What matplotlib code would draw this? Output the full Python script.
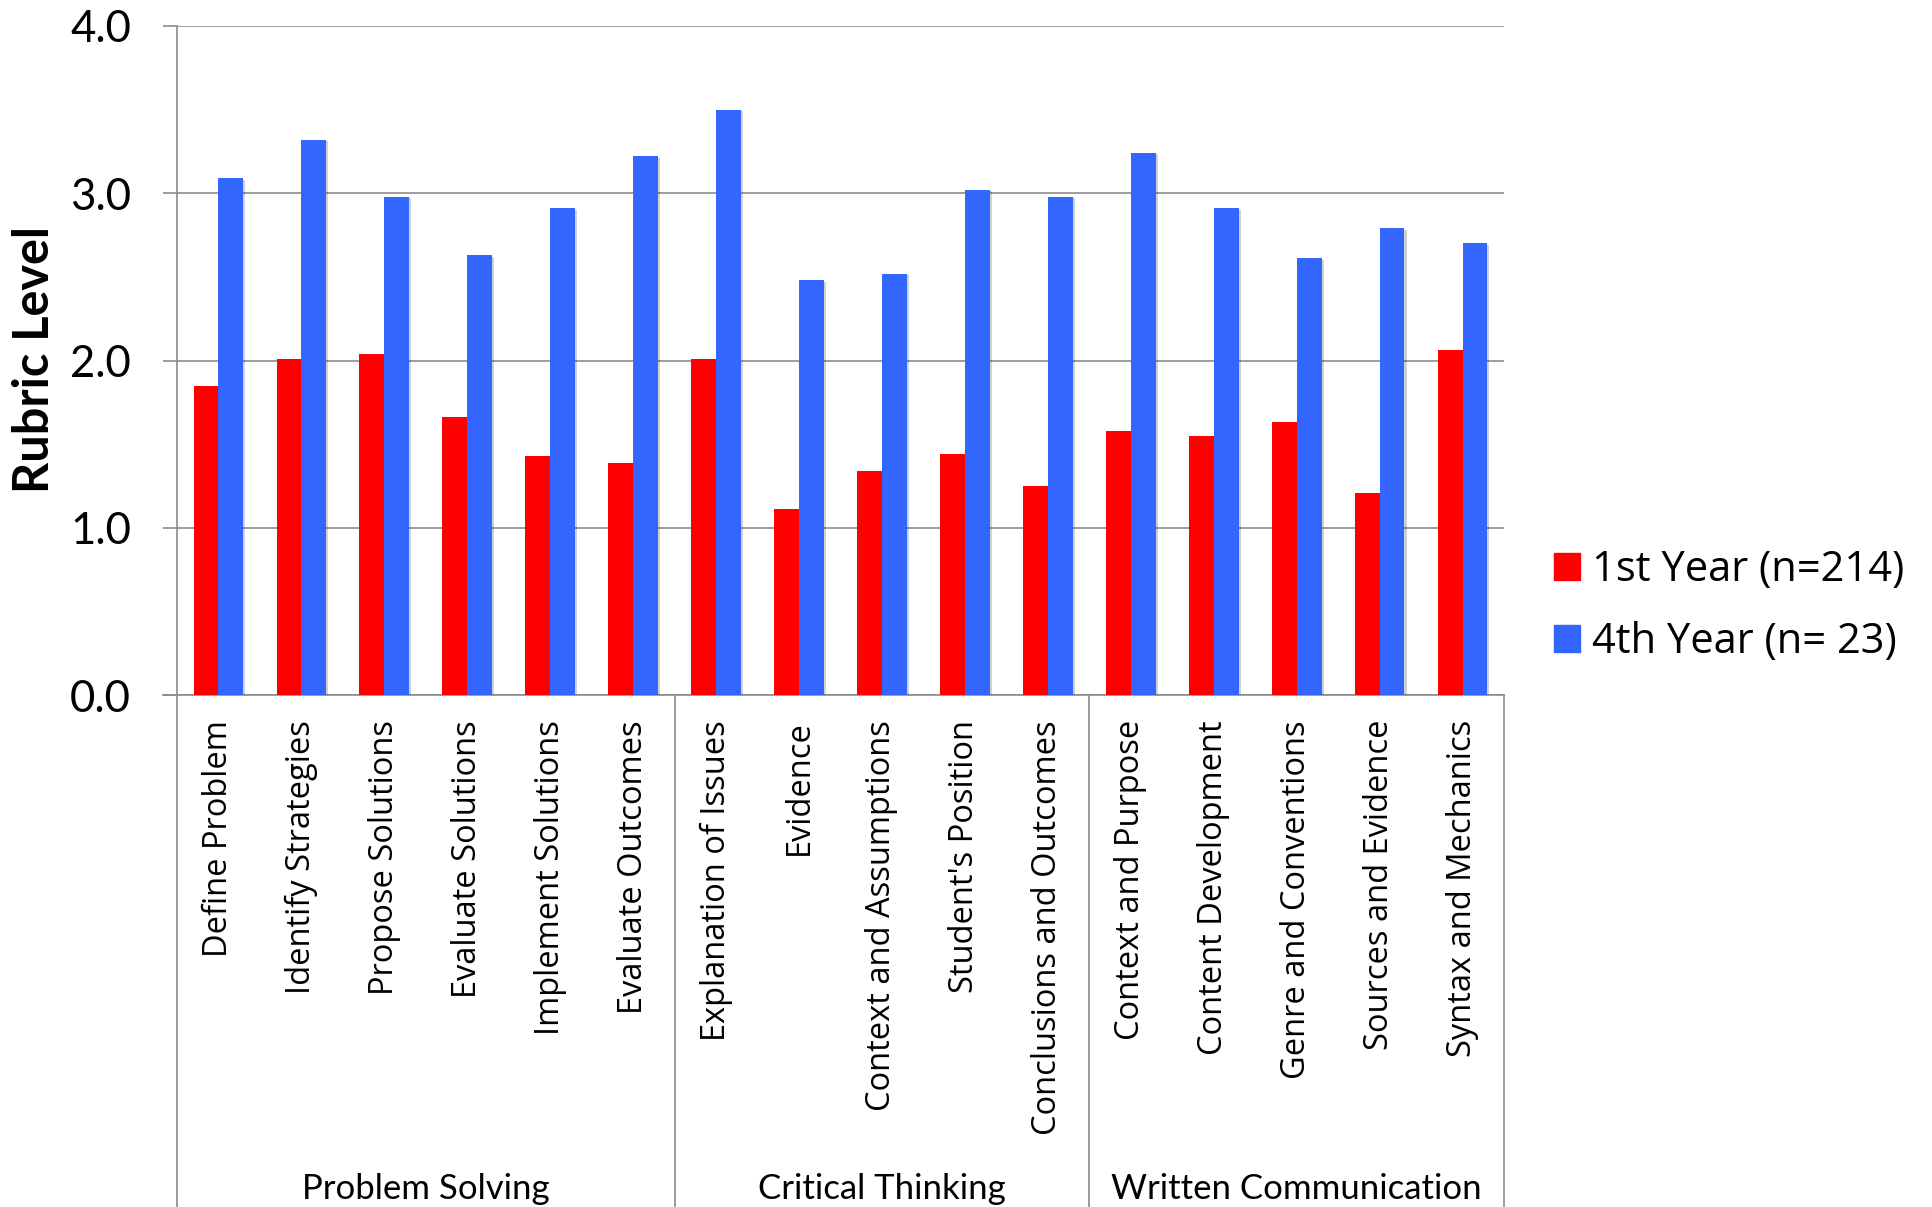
import matplotlib
matplotlib.use("Agg")
import matplotlib.pyplot as plt
import matplotlib.transforms as mtransforms
import matplotlib.patheffects as pe
from matplotlib.patches import Patch
import numpy as np

# Rubric criteria, grouped by skill area
groups = ["Problem Solving", "Critical Thinking", "Written Communication"]
group_sizes = [6, 5, 5]
criteria = [
    "Define Problem", "Identify Strategies", "Propose Solutions",
    "Evaluate Solutions", "Implement Solutions", "Evaluate Outcomes",
    "Explanation of Issues", "Evidence", "Context and Assumptions",
    "Student's Position", "Conclusions and Outcomes",
    "Context and Purpose", "Content Development", "Genre and Conventions",
    "Sources and Evidence", "Syntax and Mechanics",
]
first_year = [1.85, 2.01, 2.04, 1.66, 1.43, 1.39,
              2.01, 1.11, 1.34, 1.44, 1.25,
              1.58, 1.55, 1.63, 1.21, 2.06]
fourth_year = [3.09, 3.32, 2.98, 2.63, 2.91, 3.22,
               3.50, 2.48, 2.52, 3.02, 2.98,
               3.24, 2.91, 2.61, 2.79, 2.70]
series_labels = ["1st Year (n=214)", "4th Year (n= 23)"]
yticks = [0.0, 1.0, 2.0, 3.0, 4.0]

RED = "#FF0000"
BLUE = "#3366FF"
GRID = "#8C8C8C"
SANS = "Lato"
LABEL_FONT = "Open Sans"

W, H = 1932, 1207
fig = plt.figure(figsize=(W / 100, H / 100), dpi=100)
ax = fig.add_axes([177 / W, 1 - 695 / H, (1504 - 177) / W, (695 - 26) / H])

x = np.arange(len(criteria))
bw = 0.3
shadow = [pe.SimplePatchShadow(offset=(1.5, -1), shadow_rgbFace="#000000",
                               alpha=0.18), pe.Normal()]
ax.bar(x - bw / 2, first_year, bw, color=RED, zorder=3,
       label=series_labels[0], path_effects=shadow)
ax.bar(x + bw / 2, fourth_year, bw, color=BLUE, zorder=3,
       label=series_labels[1], path_effects=shadow)

ax.set_xlim(-0.5, len(criteria) - 0.5)
ax.set_ylim(0, 4)
ax.set_yticks(yticks)
ax.set_yticklabels([f"{v:.1f}" for v in yticks], fontsize=31.5, family=SANS)
ax.yaxis.grid(True, color=GRID, lw=1.2, zorder=0)
ax.tick_params(axis="y", length=10, width=1.2, color=GRID, pad=23)

ax.set_xticks(x)
ax.set_xticklabels(criteria, rotation=90, fontsize=23.5, family=LABEL_FONT,
                   va="top", ha="center")
ax.tick_params(axis="x", length=0, pad=18)

for side in ["top", "right", "left"]:
    ax.spines[side].set_visible(False)
ax.spines["bottom"].set_color(GRID)
ax.spines["bottom"].set_linewidth(1.2)

# Group separators running down through the category label area
trans = mtransforms.blended_transform_factory(ax.transData, ax.transAxes)
bottom = -(H - 695) / (695 - 26)
bounds = np.concatenate([[0], np.cumsum(group_sizes)]) - 0.5
for b in bounds:
    ax.plot([b, b], [bottom, 1.0 if b == bounds[0] else 0.0], transform=trans,
            color=GRID, lw=1.2, clip_on=False, zorder=4)
ax.plot([-0.5 - 14 / 83, -0.5], [0, 0], transform=trans, color=GRID, lw=1.2,
        clip_on=False)

# Group names centred under each block
label_y = -(1199 - 695) / (695 - 26)
for g, lo, hi in zip(groups, bounds[:-1], bounds[1:]):
    ax.text((lo + hi) / 2, label_y, g, transform=trans, ha="center",
            va="baseline", fontsize=25, family=SANS)

ax.set_ylabel("Rubric Level", fontsize=35, fontweight="bold", family=SANS,
              va="center")
ax.yaxis.set_label_coords(-(177 - 35) / (1504 - 177), (695 - 360) / (695 - 26))

handles = [Patch(color=RED), Patch(color=BLUE)]
fig.legend(handles, series_labels, loc="center left",
           bbox_to_anchor=(1525 / W, 1 - 606 / H), frameon=False,
           prop={"family": LABEL_FONT, "size": 30}, handlelength=0.62,
           handleheight=0.62, handletextpad=0.3, labelspacing=0.72,
           borderpad=0.2)

fig.savefig("out.png", dpi=100)
